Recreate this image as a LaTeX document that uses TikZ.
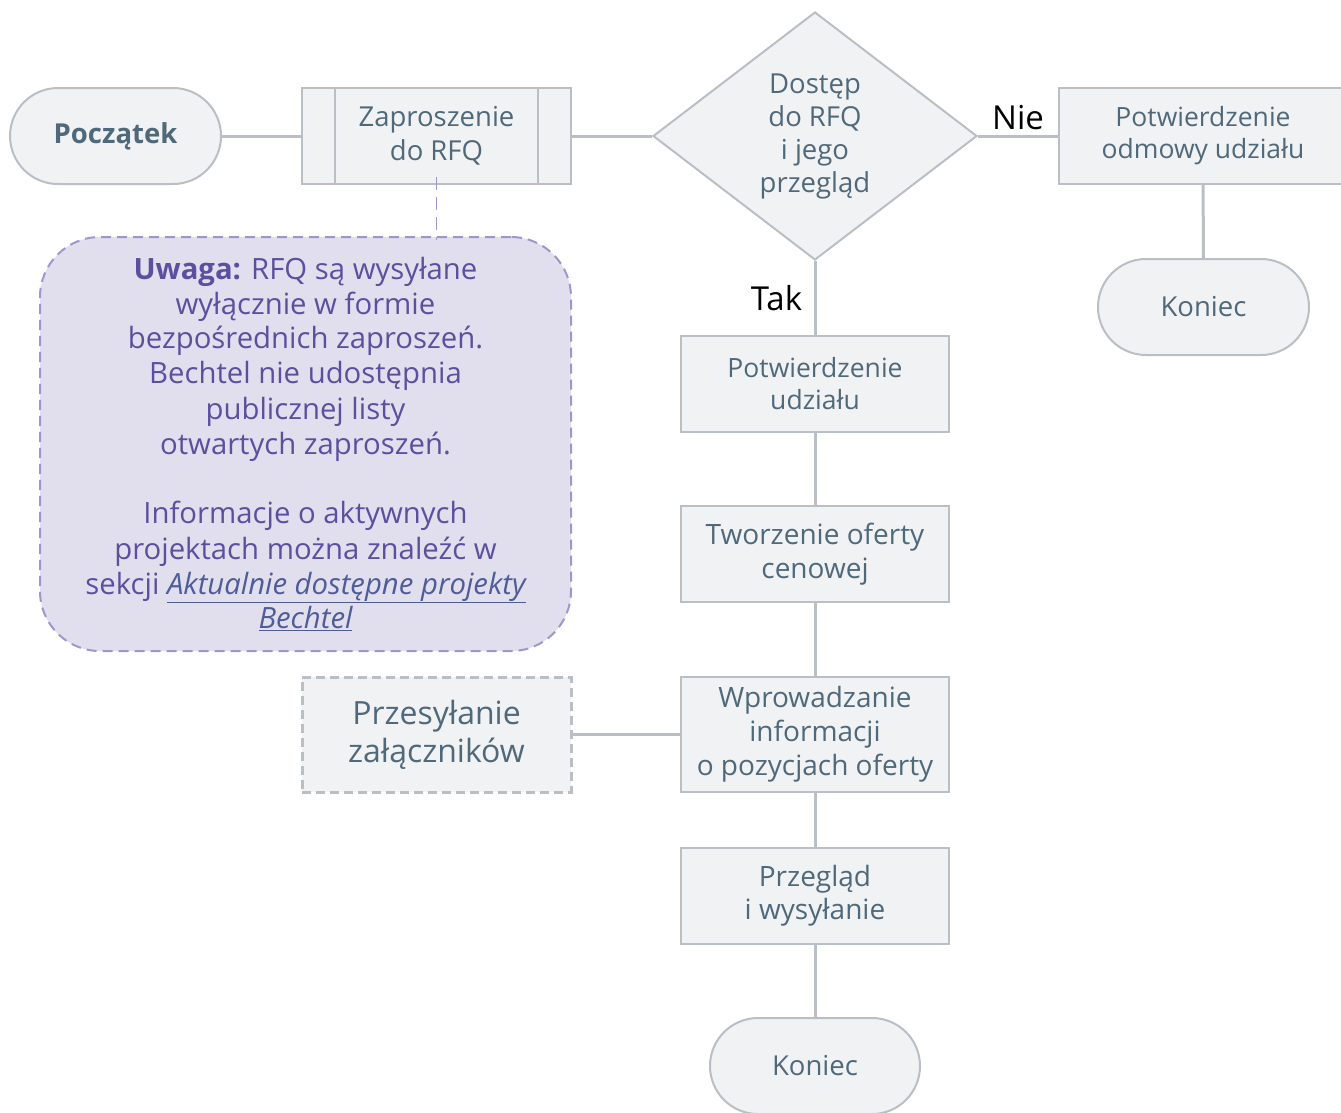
\documentclass[tikz,border=0pt]{standalone}
\usepackage{fontspec}
\setmainfont{Open Sans}
\usetikzlibrary{shapes.geometric,positioning}
\definecolor{boxfill}{HTML}{F0F2F4}
\definecolor{boxline}{HTML}{B9BFC5}
\definecolor{boxtext}{HTML}{50697A}
\definecolor{notefill}{HTML}{E1DEEE}
\definecolor{noteline}{HTML}{A096CE}
\definecolor{notetext}{HTML}{5D4F9E}
\definecolor{linktext}{HTML}{4E5C98}

\begin{document}
\begin{tikzpicture}[x=1pt, y=-1pt, line width=2pt,
   every node/.style={font=\fontsize{27.5}{34}\selectfont, text=boxtext, align=center},
   box/.style={draw=boxline, fill=boxfill, minimum width=268pt, minimum height=96pt, inner sep=0pt},
   pill/.style={box, minimum width=211pt, rounded corners=48pt},
   decision/.style={box, diamond, minimum width=324pt, minimum height=248pt},
   link/.style={draw=boxline, line width=3pt},
   answer/.style={text=black, font=\fontsize{33}{34}\selectfont}]
   \useasboundingbox (0,0) rectangle (1341,1112);

   % main row
   \node[pill, font=\bfseries\fontsize{27.5}{34}\selectfont] (start) at (115.5,136) {Początek};
   \node[box, minimum width=269pt] (invite) at (436.5,136) {Zaproszenie\\do RFQ};
   \draw[boxline] ([xshift=34pt]invite.north west) -- ([xshift=34pt]invite.south west)
                  ([xshift=-34pt]invite.north east) -- ([xshift=-34pt]invite.south east);
   \node[decision, font=\fontsize{27.5}{33}\selectfont] (access) at (815,136) {Dostęp\\do RFQ\\i jego\\przegląd};
   \node[box, minimum width=288pt, font=\fontsize{26.5}{32}\selectfont] (refuse) at (1203,136)
      {Potwierdzenie\\odmowy udziału};
   \node[pill] (end_2) at (1203.5,307) {Koniec};

   % main column
   \node[box, font=\fontsize{26.5}{32}\selectfont] (confirm) at (815,384) {Potwierdzenie\\udziału};
   \node[box, font=\fontsize{28}{34}\selectfont] (offer) at (815,554) {Tworzenie oferty\\cenowej};
   \node[box, minimum height=115pt, font=\fontsize{28}{34}\selectfont] (items) at (815,734.5)
      {Wprowadzanie\\informacji\\o pozycjach oferty};
   \node[box, font=\fontsize{28}{33}\selectfont] (review) at (815,896) {Przegląd\\i wysyłanie};
   \node[pill, minimum width=210pt, font=\fontsize{27.5}{34}\selectfont] (end_1) at (815,1066) {Koniec};
   \node[box, minimum width=269pt, minimum height=115pt, dashed, line width=3pt,
         dash pattern=on 9pt off 5pt, font=\fontsize{32}{38}\selectfont] (upload) at (436.5,734.5)
      {Przesyłanie\\załączników};

   % note
   \node[draw=noteline, fill=notefill, dashed, dash pattern=on 10pt off 6pt, rounded corners=60pt,
         minimum width=531pt, minimum height=414pt, inner sep=0pt, text=notetext,
         font=\fontsize{29.3}{35}\selectfont] (note) at (305.5,444)
      {\textbf{Uwaga:} RFQ są wysyłane\\wyłącznie w formie\\bezpośrednich zaproszeń.\\
       Bechtel nie udostępnia\\publicznej listy\\otwartych zaproszeń.\\[35pt]
       Informacje o aktywnych\\projektach można znaleźć w\\
       sekcji \textcolor{linktext}{\itshape\underline{Aktualnie dostępne projekty}}\\
       \textcolor{linktext}{\itshape\underline{Bechtel}}};

   \path[link]
    (start) edge (invite)
    (invite) edge (access)
    (access) edge node[answer, above, yshift=1pt] {Nie} (refuse)
    (refuse) edge (end_2)
    (access) edge node[answer, left, xshift=-8pt] {Tak} (confirm)
    (confirm) edge (offer)
    (offer) edge (items)
    (items) edge (review)
    (review) edge (end_1)
    (items) edge (upload);
   \draw[noteline, dashed, dash pattern=on 13pt off 7pt, line width=1.5pt]
    ([yshift=8pt]invite.south) -- ([yshift=-4pt]invite.south |- note.north);
\end{tikzpicture}
\end{document}
